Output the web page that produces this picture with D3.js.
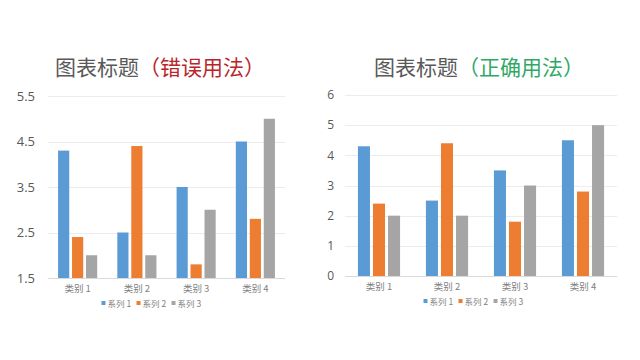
<!DOCTYPE html>
<html><head><meta charset="utf-8">
<script src="https://cdn.jsdelivr.net/npm/d3@7"></script>
<style>body{margin:0;background:#fff}svg{display:block;font-family:"Noto Sans CJK SC","Noto Sans",sans-serif}</style>
</head><body>
<script>
const categories = ["类别 1","类别 2","类别 3","类别 4"];
const seriesNames = ["系列 1","系列 2","系列 3"];
const series1 = [4.3, 2.5, 3.5, 4.5];
const series2 = [2.4, 4.4, 1.8, 2.8];
const series3 = [2, 2, 3, 5];
const colors = ["#5B9BD5","#ED7D31","#A5A5A5"];
const leftTicks = [1.5, 2.5, 3.5, 4.5, 5.5];
const rightTicks = [0, 1, 2, 3, 4, 5, 6];
const allSeries = [series1, series2, series3];

const svg = d3.select("body").append("svg").attr("width",640).attr("height",360);

function chart(cfg){
  const g = svg.append("g");
  const t = g.append("text").attr("x",cfg.titleX).attr("y",75).attr("text-anchor","middle")
    .attr("font-size",21);
  t.append("tspan").attr("fill","#595959").text("图表标题");
  t.append("tspan").attr("fill",cfg.accent).text(cfg.accentText);

  const y = d3.scaleLinear().domain(cfg.domain).range([cfg.y0, cfg.y1]);
  const x = d3.scaleBand().domain(categories).range([cfg.x0, cfg.x1]);
  const xs = d3.scaleBand().domain(d3.range(3))
     .range([x.bandwidth()*cfg.inset, x.bandwidth()*(1-cfg.inset)]).paddingInner(0.2);

  g.selectAll(".grid").data(cfg.ticks).join("line")
    .attr("x1",cfg.x0).attr("x2",cfg.x1)
    .attr("y1",d=>Math.round(y(d))+0.5).attr("y2",d=>Math.round(y(d))+0.5)
    .attr("stroke",(d,i)=>i===0?"#d9d9d9":"#ececec").attr("stroke-width",1);
  g.selectAll(".yl").data(cfg.ticks).join("text")
    .attr("x",cfg.labelX).attr("y",d=>y(d)).attr("dy","0.35em")
    .attr("text-anchor","end").attr("font-size",cfg.yFont).attr("fill","#595959")
    .attr("font-family","Open Sans, Noto Sans, sans-serif")
    .text(d=>cfg.fmt(d));
  categories.forEach((c,ci)=>{
    allSeries.forEach((s,si)=>{
      g.append("rect").attr("x",x(c)+xs(si)).attr("width",xs.bandwidth())
        .attr("y",y(s[ci])).attr("height",y(cfg.domain[0])-y(s[ci]))
        .attr("fill",colors[si]);
    });
  });
  g.selectAll(".cl").data(categories).join("text")
    .attr("x",d=>x(d)+x.bandwidth()/2).attr("y",cfg.y0+14)
    .attr("text-anchor","middle").attr("font-size",9.5).attr("fill","#7f7f7f").text(d=>d);
  const itemW = 35;
  const lx = cfg.legendCx - itemW*3/2;
  seriesNames.forEach((n,i)=>{
    const ix = lx + i*itemW;
    g.append("rect").attr("x",ix).attr("y",cfg.y0+23).attr("width",4).attr("height",4).attr("fill",colors[i]);
    g.append("text").attr("x",ix+6).attr("y",cfg.y0+28.5).attr("font-size",8.5).attr("fill","#7f7f7f").text(n);
  });
}

chart({titleX:160, accent:"#B8262B", accentText:"（错误用法）", domain:[1.5,5.5], y0:278, y1:96,
  x0:48, x1:285, inset:0.17, ticks:leftTicks, labelX:35, yFont:13, fmt:d3.format(".1f"), legendCx:154});
chart({titleX:479, accent:"#2FA866", accentText:"（正确用法）", domain:[0,6], y0:276, y1:95,
  x0:345, x1:617, inset:0.19, ticks:rightTicks, labelX:334, yFont:12, fmt:d3.format("d"), legendCx:476});
</script>
</body></html>
